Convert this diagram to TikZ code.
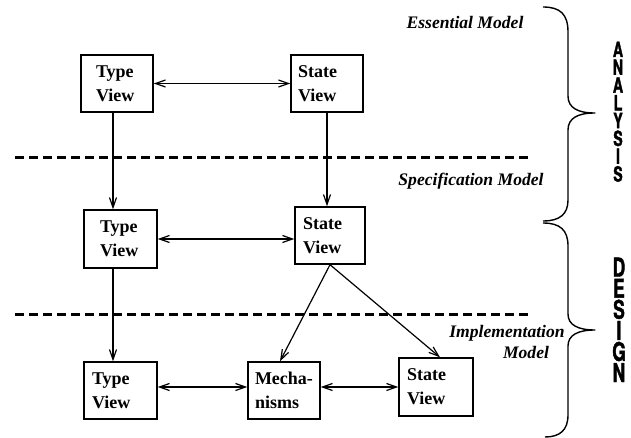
\documentclass[tikz,border=0pt]{standalone}
\usepackage{fontspec}
\setmainfont{Liberation Serif}
\newfontfamily\tallsans{TeX Gyre Heros}[FakeStretch=0.67, FakeBold=1.6]
\usetikzlibrary{arrows.meta}

\begin{document}
\begin{tikzpicture}[x=1pt,y=-1pt,
  viewbox/.style 2 args={draw, rectangle, line width=1.4pt,
    font=\fontsize{18}{24}\selectfont\bfseries, align=left,
    inner xsep=#1, text width=#2, minimum height=57},
  modellabel/.style={font=\fontsize{17.6}{21}\selectfont\bfseries\itshape, inner sep=0},
  arr/.style={line width=1.2pt, -{Straight Barb[length=10pt,width=7pt]}},
  both/.style={line width=1.2pt, {Straight Barb[length=10pt,width=7pt]}-{Straight Barb[length=10pt,width=7pt]}},
  divider/.style={line width=3pt, dash pattern=on 9pt off 5pt},
  brace/.style={line width=1.4pt, line join=round},
  stackletter/.style={inner sep=0, anchor=base, font=\fontsize{#1}{#1}\selectfont\tallsans\bfseries}]

\useasboundingbox (0,0) rectangle (631,438);

% views of the three models
\node[viewbox={15}{42}] (t1) at (117,83.5) {Type\\View};
\node[viewbox={7}{58}] (s1) at (327,83.5) {State\\View};
\node[viewbox={16}{41}, minimum height=58] (t2) at (120.5,239) {Type\\View};
\node[viewbox={8}{54}] (s2) at (330,235.5) {State\\View};
\node[viewbox={8}{57}] (t3) at (120.5,390.5) {Type\\View};
\node[viewbox={7}{58}] (m3) at (284,390.5) {Mecha-\\nisms};
\node[viewbox={8}{58}, minimum height=58] (s3) at (436,387) {State\\View};

% connectors
\coordinate (c1) at ([xshift=-4pt]t1.south);
\coordinate (c2) at ([xshift=-7.5pt]t2.south);
\draw[both] (t1) -- (s1);
\draw[arr] (c1) -- (c1 |- t2.north);
\draw[arr] (s1.south) -- (s1.south |- s2.north);
\draw[both] (t2.east) -- (t2.east -| s2.west);
\draw[arr] (c2) -- (c2 |- t3.north);
\draw[arr] (s2.south) -- ([xshift=-4pt]m3.north);
\draw[arr] (s2.south) -- ([xshift=4pt]s3.north);
\draw[both] (t3.east |- s3.west) -- (m3.west |- s3.west);
\draw[both] (m3.east |- s3.west) -- (s3.west);

% model boundaries
\draw[divider] (15,158) -- (531,158);
\draw[divider] (15,314) -- (531,314);

% model names
\node[modellabel] (essential) at (465,22) {Essential Model};
\node[modellabel] (spec) at (471,181) {Specification Model};
\node[modellabel, align=center] (impl) at (507,342) {Implementation\\\hspace*{38pt}Model};

% phase braces
\draw[brace] (543,7) .. controls (560,7) and (568,14) .. (568,32) -- (568,96)
  .. controls (568,108) and (578,113) .. (595,113)
  .. controls (578,113) and (568,118) .. (568,130) -- (568,200)
  .. controls (568,214) and (560,221) .. (543,221);
\draw[brace] (543,223) .. controls (560,223) and (568,230) .. (568,246) -- (568,314)
  .. controls (568,325) and (578,330) .. (595,330)
  .. controls (578,330) and (568,335) .. (568,346) -- (568,415)
  .. controls (568,430) and (560,437) .. (545,437);

% phase names, one tall narrow letter under the other
\foreach \ch [count=\k from 0] in {A,N,A,L,Y,S,I,S}
  \node[stackletter=21] (analysis-\k) at (618,{57+17.8*\k}) {\ch};
\foreach \ch [count=\k from 0] in {D,E,S,I,G,N}
  \node[stackletter=25.8] (design-\k) at (619,{276.5+21.1*\k}) {\ch};

\end{tikzpicture}
\end{document}
